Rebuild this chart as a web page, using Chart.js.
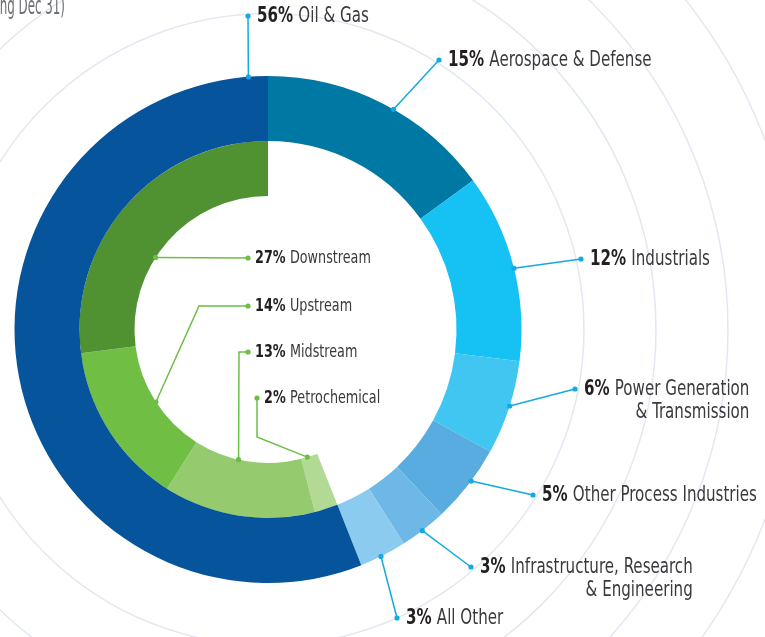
<!DOCTYPE html>
<html>
<head>
<meta charset="utf-8">
<script src="https://cdn.jsdelivr.net/npm/chart.js@4/dist/chart.umd.min.js"></script>
<style>
html, body { margin: 0; padding: 0; background: #fff; }
#wrap { width: 765px; height: 637px; }
</style>
</head>
<body>
<div id="wrap"><canvas id="segments" width="765" height="637"></canvas></div>
<script>
// outer ring, clockwise from 12 o'clock
const sectorLabels = ['Aerospace & Defense', 'Industrials', 'Power Generation', 'Other Process Industries', 'Infrastructure, Research', 'All Other', 'Oil & Gas'];
const sectorSecondLines = ['', '', '& Transmission', '', '& Engineering', '', ''];
const sectorValues = [15, 12, 6, 5, 3, 3, 56];
const sectorColors = ['#0078A4', '#16C1F3', '#40C6F1', '#58ACDF', '#6DB8E6', '#8BCBEF', '#06549B'];

// inner ring = split of Oil & Gas, clockwise
const oilGasLabels = ['Petrochemical', 'Midstream', 'Upstream', 'Downstream'];
const oilGasValues = [2, 13, 14, 27];
const oilGasColors = ['#B2DA95', '#95CA6E', '#71BE45', '#509132'];

const BLUE_LINE = '#14A9E3';
const GREEN_LINE = '#6CBE45';
const FONT = "'Liberation Sans Narrow', 'DejaVu Sans Condensed', 'Roboto Condensed', 'Liberation Sans', sans-serif";
const SQUEEZE = 0.78;

// leader lines: t = position along the slice, end = dot next to the text
const sectorCallouts = [
	{ t: 0.55, end: [439, 60] },
	{ t: 0.51, end: [581, 259] },
	{ t: 0.48, end: [575, 389] },
	{ t: 0.44, end: [533, 495] },
	{ t: 0.53, end: [471, 567] },
	{ t: 0.55, end: [397, 618] },
	{ t: 0.978, end: [248, 16] },
];
const oilGasCallouts = [
	{ t: 0.62, bend: [257, 437], end: [257, 398] },
	{ t: 0.58, bend: [239, 352], end: [248, 352] },
	{ t: 0.49, bend: [199, 306], end: [248, 306] },
	{ t: 0.41, bend: null, end: [248, 258] },
];

const gap = sectorValues.slice(0, 6).reduce((a, b) => a + b, 0);

function dot(ctx, x, y, color) {
	ctx.beginPath();
	ctx.arc(x, y, 2.6, 0, Math.PI * 2);
	ctx.fillStyle = color;
	ctx.fill();
}

function drawText(ctx, x, y, size, pct, name, second) {
	ctx.save();
	ctx.translate(x, y);
	ctx.scale(SQUEEZE, 1);
	ctx.textBaseline = 'middle';
	ctx.textAlign = 'left';
	ctx.font = 'bold ' + size + 'px ' + FONT;
	ctx.fillStyle = '#231F20';
	const p = pct + '% ';
	ctx.fillText(p, 0, 0);
	const pw = ctx.measureText(p).width;
	ctx.font = size + 'px ' + FONT;
	ctx.fillStyle = '#3A3A3C';
	ctx.fillText(name, pw, 0);
	const right = pw + ctx.measureText(name).width;
	if (second) {
		ctx.textAlign = 'right';
		ctx.fillText(second, right, 23.5);
	}
	ctx.restore();
}

const rings = {
	id: 'rings',
	beforeDatasetsDraw(chart) {
		const arc = chart.getDatasetMeta(0).data[0];
		const ctx = chart.ctx;
		ctx.save();
		ctx.strokeStyle = '#E2E8F2';
		ctx.lineWidth = 1.5;
		[316, 388, 460, 532, 604, 676, 748].forEach(r => {
			ctx.beginPath();
			ctx.arc(arc.x, arc.y, r, 0, Math.PI * 2);
			ctx.stroke();
		});
		// clipped subtitle in the corner
		ctx.font = '24px ' + FONT;
		ctx.fillStyle = '#6D6E71';
		ctx.textAlign = 'right';
		ctx.textBaseline = 'alphabetic';
		ctx.translate(65, 13.5);
		ctx.scale(0.55, 1);
		ctx.fillText('(Fiscal Year Ending Dec 31)', 0, 0);
		ctx.restore();
	}
};

function anchor(el, t, r) {
	const a = el.startAngle + t * (el.endAngle - el.startAngle);
	return [el.x + r * Math.cos(a), el.y + r * Math.sin(a)];
}

const callouts = {
	id: 'callouts',
	afterDatasetsDraw(chart) {
		const ctx = chart.ctx;
		ctx.save();
		ctx.lineWidth = 1.5;
		const outer = chart.getDatasetMeta(0).data;
		sectorCallouts.forEach((c, i) => {
			const el = outer[i];
			const [ax, ay] = anchor(el, c.t, el.outerRadius);
			ctx.strokeStyle = BLUE_LINE;
			ctx.beginPath();
			ctx.moveTo(ax, ay);
			ctx.lineTo(c.end[0], c.end[1]);
			ctx.stroke();
			dot(ctx, ax, ay, BLUE_LINE);
			dot(ctx, c.end[0], c.end[1], BLUE_LINE);
			drawText(ctx, c.end[0] + 9, c.end[1], 21.5, sectorValues[i], sectorLabels[i], sectorSecondLines[i]);
		});
		const inner = chart.getDatasetMeta(1).data;
		oilGasCallouts.forEach((c, i) => {
			const el = inner[i + 1];
			const [ax, ay] = anchor(el, c.t, el.innerRadius);
			ctx.strokeStyle = GREEN_LINE;
			ctx.beginPath();
			ctx.moveTo(ax, ay);
			if (c.bend) ctx.lineTo(c.bend[0], c.bend[1]);
			ctx.lineTo(c.end[0], c.end[1]);
			ctx.stroke();
			dot(ctx, ax, ay, GREEN_LINE);
			dot(ctx, c.end[0], c.end[1], GREEN_LINE);
			drawText(ctx, c.end[0] + 7, c.end[1], 18.2, oilGasValues[i], oilGasLabels[i], '');
		});
		ctx.restore();
	}
};

const config_segments = {
	type: 'doughnut',
	data: {
		labels: sectorLabels,
		datasets: [
			{
				data: sectorValues,
				backgroundColor: sectorColors,
				borderWidth: 0,
				weight: 65,
			},
			{
				data: [gap, ...oilGasValues],
				backgroundColor: ['rgba(0,0,0,0)', ...oilGasColors],
				borderWidth: 0,
				weight: 55,
			},
		]
	},
	options: {
		responsive: false,
		animation: false,
		cutout: 133.5,
		layout: {
			padding: { left: 14.5, top: 76, right: 243.5, bottom: 54 }
		},
		plugins: {
			legend: { display: false },
			tooltip: { enabled: false },
			title: { display: false }
		}
	},
	plugins: [rings, callouts]
};

const segments = new Chart(document.getElementById('segments'), config_segments);
</script>
</body>
</html>
